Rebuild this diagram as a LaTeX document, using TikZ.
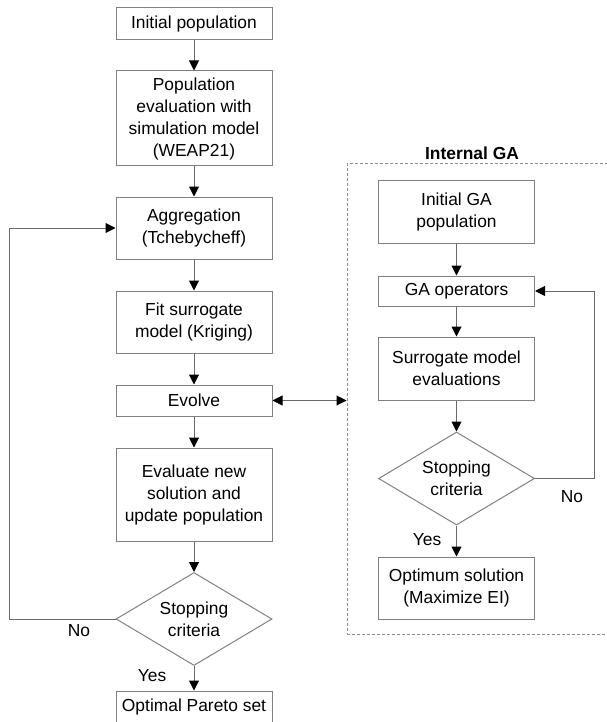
\documentclass[tikz,border=0pt]{standalone}
\usepackage{fontspec}
\setmainfont{Liberation Sans}
\usetikzlibrary{shapes.geometric,arrows.meta}
\definecolor{boxline}{RGB}{128,128,128}
\definecolor{flowline}{RGB}{105,105,105}
\definecolor{gaframe}{RGB}{140,140,140}
\tikzstyle{every node}=[font=\fontsize{17.4}{22}\selectfont, align=center, text=black]
\tikzstyle{stepbox}=[draw=boxline, line width=1pt, minimum width=156pt]
\tikzstyle{decision}=[draw=boxline, line width=1pt, diamond, aspect=1.68, inner sep=0pt,
    minimum width=156pt, minimum height=93pt]
\tikzstyle{flow}=[draw=flowline, line width=1pt, -{Triangle[length=10pt,width=10pt,color=black]}]
\tikzstyle{twoway}=[draw=flowline, line width=1pt,
    {Triangle[length=10pt,width=10pt,color=black]}-{Triangle[length=10pt,width=10pt,color=black]}]
\tikzstyle{answer}=[inner sep=0pt]

\begin{document}
\begin{tikzpicture}[x=1pt, y=-1pt]
            \useasboundingbox (0,0) rectangle (606,722);

            \node[stepbox, minimum height=32pt] (init) at (194, 24) {Initial population};
            \node[stepbox, minimum height=95pt] (popeval) at (194, 118.5)
                {Population\\evaluation with\\simulation model\\(WEAP21)};
            \node[stepbox, minimum height=62pt] (aggr) at (194, 228) {Aggregation\\(Tchebycheff)};
            \node[stepbox, minimum height=62pt] (fit) at (194, 322) {Fit surrogate\\model (Kriging)};
            \node[stepbox, minimum height=31pt] (evolve) at (194, 400.5) {Evolve};
            \node[stepbox, minimum height=93pt] (evalnew) at (194, 494.5)
                {Evaluate new\\solution and\\update population};
            \node[decision] (stop) at (194, 619) {Stopping\\criteria};
            \node[stepbox, minimum height=31pt] (pareto) at (194, 706.5) {Optimal Pareto set};
            \coordinate (loopL) at (9, 0);

            \draw[flow] (init) -- (popeval);
            \draw[flow] (popeval) -- (aggr);
            \draw[flow] (aggr) -- (fit);
            \draw[flow] (fit) -- (evolve);
            \draw[flow] (evolve) -- (evalnew);
            \draw[flow] (evalnew) -- (stop);
            \draw[flow] (stop) -- (pareto);
            \draw[flow] (stop.west) -- (stop.west -| loopL) |- (aggr.west);
            \node[answer] (noL) at (79, 631) {No};
            \node[answer] (yesL) at (152, 676) {Yes};

            \node[draw=gaframe, line width=1pt, dash pattern=on 3pt off 2pt,
                minimum width=263pt, minimum height=470pt] (ga) at (478.5, 399) {};
            \node[font=\fontsize{17.4}{22}\selectfont\bfseries] (gatitle) at (472, 153) {Internal GA};
            \draw[twoway] (evolve.east) -- (evolve.east -| ga.west);

            \node[stepbox, minimum height=62pt] (gainit) at (456.5, 212) {Initial GA\\population};
            \node[stepbox, minimum height=30pt] (gaop) at (456.5, 291) {GA operators};
            \node[stepbox, minimum height=63pt] (surr) at (456.5, 368.5) {Surrogate model\\evaluations};
            \node[decision] (gastop) at (456.5, 478.5) {Stopping\\criteria};
            \node[stepbox, minimum height=62pt] (optimum) at (456.5, 588) {Optimum solution\\(Maximize EI)};
            \coordinate (loopR) at (594, 0);

            \draw[flow] (gainit) -- (gaop);
            \draw[flow] (gaop) -- (surr);
            \draw[flow] (surr) -- (gastop);
            \draw[flow] (gastop) -- (optimum);
            \draw[flow] (gastop.east) -- (gastop.east -| loopR) |- (gaop.east);
            \node[answer] (noR) at (572, 497) {No};
            \node[answer] (yesR) at (427, 540) {Yes};
        \end{tikzpicture}
\end{document}
